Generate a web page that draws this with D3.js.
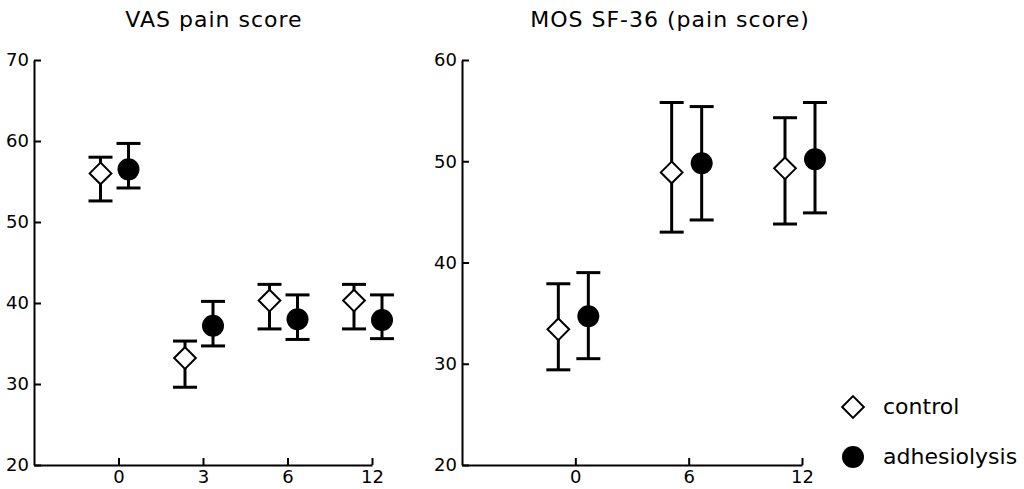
<!DOCTYPE html>
<html lang="en">
<head>
<meta charset="UTF-8">
<title>VAS and MOS SF-36 pain scores</title>
<script src="https://d3js.org/d3.v7.min.js"></script>
<style>
  body { margin: 0; background: #fff; }
  svg { display: block; }
  text { font-family: "DejaVu Sans", "Liberation Sans", sans-serif; fill: #000; }
  .axis path, .axis line { stroke: #000; stroke-width: 2; }
  .axis text { font-size: 18px; }
  .title { font-size: 22px; letter-spacing: 1px; text-anchor: middle; }
  .legend text { font-size: 22px; }
</style>
</head>
<body>
<svg id="chart" width="1024" height="489"></svg>
<script>
// follow-up time points (months)
const vasTimes = ["0", "3", "6", "12"];
const mosTimes = ["0", "6", "12"];

// VAS pain score: mean, lower and upper error bar ends
const vasControl      = [56.0, 33.2, 40.3, 40.3];
const vasControlLow   = [52.6, 29.6, 36.8, 36.8];
const vasControlHigh  = [58.0, 35.3, 42.3, 42.3];
const vasAdhesio      = [56.5, 37.2, 38.0, 37.9];
const vasAdhesioLow   = [54.2, 34.7, 35.5, 35.6];
const vasAdhesioHigh  = [59.7, 40.2, 41.0, 41.0];

// MOS SF-36 pain score
const mosControl      = [33.4, 48.9, 49.3];
const mosControlLow   = [29.4, 43.0, 43.8];
const mosControlHigh  = [37.9, 55.8, 54.3];
const mosAdhesio      = [34.7, 49.8, 50.2];
const mosAdhesioLow   = [30.5, 44.2, 44.9];
const mosAdhesioHigh  = [39.0, 55.4, 55.8];

const vasTicks = [20, 30, 40, 50, 60, 70];
const mosTicks = [20, 30, 40, 50, 60];
const seriesNames = ["control", "adhesiolysis"];

const svg = d3.select("#chart");
const diamond = d3.symbol().type(d3.symbolDiamond2).size(300);

function panel(opts) {
  const g = svg.append("g");

  const x = d3.scalePoint().domain(opts.times)
    .range([opts.x0, opts.x1]).padding(0.5).align(1);
  const y = d3.scaleLinear().domain([opts.ticks[0], opts.ticks[opts.ticks.length - 1]])
    .range([465, 60]);

  g.append("g").attr("class", "axis")
    .attr("transform", `translate(0,${y(opts.ticks[0])})`)
    .call(d3.axisBottom(x).tickSizeInner(-7).tickSizeOuter(0).tickPadding(5));

  g.append("g").attr("class", "axis")
    .attr("transform", `translate(${opts.x0},0)`)
    .call(d3.axisLeft(y).tickValues(opts.ticks).tickSizeInner(-7).tickSizeOuter(0).tickPadding(5));

  g.append("text").attr("class", "title")
    .attr("x", opts.titleX).attr("y", 27).text(opts.title);

  // error bars + markers for both series
  const series = [
    { mean: opts.control, lo: opts.controlLow, hi: opts.controlHigh, dx: opts.dx[0], kind: "diamond" },
    { mean: opts.adhesio, lo: opts.adhesioLow, hi: opts.adhesioHigh, dx: opts.dx[1], kind: "circle" }
  ];

  series.forEach(s => {
    const pts = opts.times.map((t, i) => ({ cx: x(t) + s.dx, m: s.mean[i], lo: s.lo[i], hi: s.hi[i] }));
    const sg = g.append("g");

    sg.selectAll(".stem").data(pts).join("line")
      .attr("x1", d => d.cx).attr("x2", d => d.cx)
      .attr("y1", d => y(d.lo)).attr("y2", d => y(d.hi))
      .attr("stroke", "#000").attr("stroke-width", 3);

    ["lo", "hi"].forEach(k => {
      sg.selectAll(".cap-" + k).data(pts).join("line")
        .attr("x1", d => d.cx - 12).attr("x2", d => d.cx + 12)
        .attr("y1", d => y(d[k])).attr("y2", d => y(d[k]))
        .attr("stroke", "#000").attr("stroke-width", 3);
    });

    if (s.kind === "diamond") {
      sg.selectAll(".mk").data(pts).join("path")
        .attr("d", diamond)
        .attr("transform", d => `translate(${d.cx},${y(d.m)})`)
        .attr("fill", "#fff").attr("stroke", "#000").attr("stroke-width", 2);
    } else {
      sg.selectAll(".mk").data(pts).join("circle")
        .attr("cx", d => d.cx).attr("cy", d => y(d.m)).attr("r", 11)
        .attr("fill", "#000");
    }
  });
}

panel({
  title: "VAS pain score", titleX: 214,
  times: vasTimes, ticks: vasTicks, x0: 34, x1: 372, dx: [-18, 10],
  control: vasControl, controlLow: vasControlLow, controlHigh: vasControlHigh,
  adhesio: vasAdhesio, adhesioLow: vasAdhesioLow, adhesioHigh: vasAdhesioHigh
});

panel({
  title: "MOS SF-36 (pain score)", titleX: 670,
  times: mosTimes, ticks: mosTicks, x0: 462, x1: 802, dx: [-17, 13],
  control: mosControl, controlLow: mosControlLow, controlHigh: mosControlHigh,
  adhesio: mosAdhesio, adhesioLow: mosAdhesioLow, adhesioHigh: mosAdhesioHigh
});

// legend
const legend = svg.append("g").attr("class", "legend");
seriesNames.forEach((name, i) => {
  const ly = 407 + i * 50;
  if (i === 0) {
    legend.append("path").attr("d", diamond)
      .attr("transform", `translate(853,${ly})`)
      .attr("fill", "#fff").attr("stroke", "#000").attr("stroke-width", 2);
  } else {
    legend.append("circle").attr("cx", 853).attr("cy", ly).attr("r", 11).attr("fill", "#000");
  }
  legend.append("text").attr("x", 883).attr("y", ly + 7).text(name);
});
</script>
</body>
</html>
